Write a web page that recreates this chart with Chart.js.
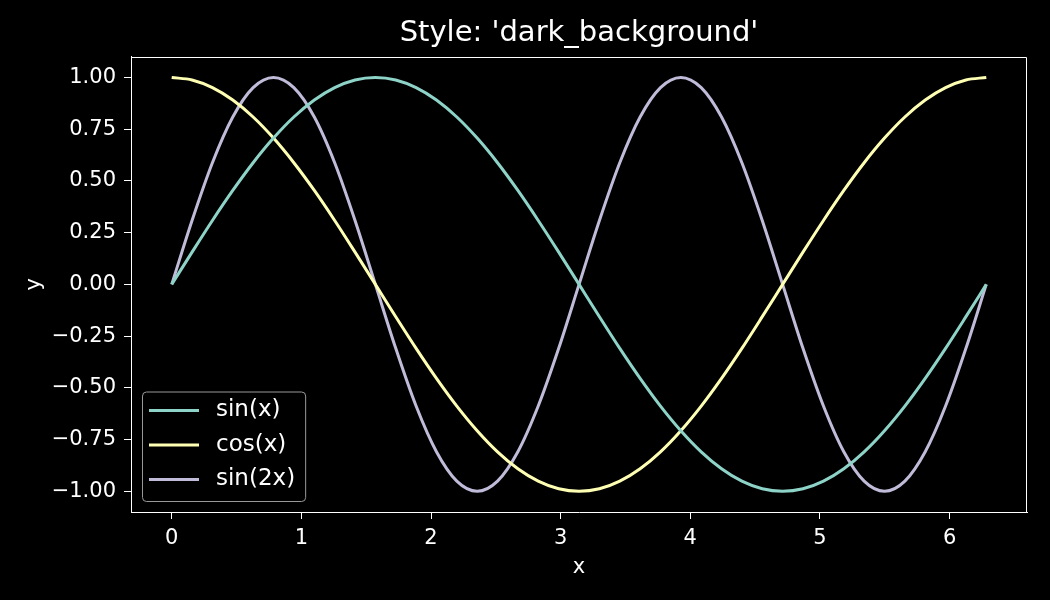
<!DOCTYPE html>
<html>
<head>
<meta charset="utf-8">
<script src="https://cdn.jsdelivr.net/npm/chart.js@4.4.0/dist/chart.umd.min.js"></script>
<style>
  html, body { margin: 0; background: #000; }
  #wrap { width: 1050px; height: 600px; }
</style>
</head>
<body>
<div id="wrap"><canvas id="chart" width="1050" height="600"></canvas></div>
<script>
// DATA (x from 0 to about 6.28)
const xValues = [0, 0.157, 0.314, 0.471, 0.628, 0.785, 0.942, 1.100, 1.257, 1.414,
  1.571, 1.728, 1.885, 2.042, 2.199, 2.356, 2.513, 2.670, 2.827, 2.985,
  3.142, 3.299, 3.456, 3.613, 3.770, 3.927, 4.084, 4.241, 4.398, 4.555,
  4.712, 4.869, 5.027, 5.184, 5.341, 5.498, 5.655, 5.812, 5.969, 6.126, 6.283];
const sinX = [0, 0.156, 0.309, 0.454, 0.588, 0.707, 0.809, 0.891, 0.951, 0.988,
  1, 0.988, 0.951, 0.891, 0.809, 0.707, 0.588, 0.454, 0.309, 0.156,
  0, -0.156, -0.309, -0.454, -0.588, -0.707, -0.809, -0.891, -0.951, -0.988,
  -1, -0.988, -0.951, -0.891, -0.809, -0.707, -0.588, -0.454, -0.309, -0.156, 0];
const cosX = [1, 0.988, 0.951, 0.891, 0.809, 0.707, 0.588, 0.454, 0.309, 0.156,
  0, -0.156, -0.309, -0.454, -0.588, -0.707, -0.809, -0.891, -0.951, -0.988,
  -1, -0.988, -0.951, -0.891, -0.809, -0.707, -0.588, -0.454, -0.309, -0.156,
  0, 0.156, 0.309, 0.454, 0.588, 0.707, 0.809, 0.891, 0.951, 0.988, 1];
const sin2X = [0, 0.309, 0.588, 0.809, 0.951, 1, 0.951, 0.809, 0.588, 0.309,
  0, -0.309, -0.588, -0.809, -0.951, -1, -0.951, -0.809, -0.588, -0.309,
  0, 0.309, 0.588, 0.809, 0.951, 1, 0.951, 0.809, 0.588, 0.309,
  0, -0.309, -0.588, -0.809, -0.951, -1, -0.951, -0.809, -0.588, -0.309, 0];
const seriesNames = ["sin(x)", "cos(x)", "sin(2x)"];
const xTicks = [0, 1, 2, 3, 4, 5, 6];
const yTicks = [-1, -0.75, -0.5, -0.25, 0, 0.25, 0.5, 0.75, 1];

const colors = ["#8dd3c7", "#feffb3", "#bfbbd9"];
const FONT = "'DejaVu Sans', sans-serif";

function toPoints(ys) {
  return ys.map((y, i) => ({ x: xValues[i], y: y }));
}

// top + right spines
const frame = {
  id: "frame",
  afterDraw(chart) {
    const a = chart.chartArea, ctx = chart.ctx;
    ctx.save();
    ctx.strokeStyle = "#fff";
    ctx.lineWidth = 1;
    ctx.beginPath();
    ctx.moveTo(Math.round(a.left) + 0.5, Math.round(a.top) + 0.5);
    ctx.lineTo(Math.round(a.right) - 0.5, Math.round(a.top) + 0.5);
    ctx.lineTo(Math.round(a.right) - 0.5, Math.round(a.bottom));
    ctx.stroke();
    ctx.restore();
  }
};

// legend box in lower left corner of the plot
const boxLegend = {
  id: "boxLegend",
  afterDraw(chart) {
    const ctx = chart.ctx, a = chart.chartArea;
    const ds = chart.data.datasets;
    ctx.save();
    ctx.font = "23px " + FONT;
    const textW = Math.max(...ds.map(d => ctx.measureText(d.label).width));
    const x0 = a.left + 11, rowH = 34.5;
    const h = ds.length * rowH + 6;
    const y0 = a.bottom - 11 - h;
    const w = 74 + textW + 10;
    ctx.fillStyle = "rgba(0,0,0,0.8)";
    ctx.strokeStyle = "#999";
    ctx.lineWidth = 1;
    ctx.beginPath();
    ctx.roundRect(x0 + 0.5, y0 + 0.5, w, h, 4);
    ctx.fill();
    ctx.stroke();
    ds.forEach((d, i) => {
      const cy = y0 + 19 + i * rowH;
      ctx.strokeStyle = d.borderColor;
      ctx.lineWidth = 3;
      ctx.beginPath();
      ctx.moveTo(x0 + 7, cy);
      ctx.lineTo(x0 + 57, cy);
      ctx.stroke();
      ctx.fillStyle = "#fff";
      ctx.textBaseline = "middle";
      ctx.fillText(d.label, x0 + 74, cy);
    });
    ctx.restore();
  }
};

const axisCommon = {
  type: "linear",
  grid: { drawOnChartArea: false, drawTicks: true, tickLength: 7, color: "#fff", tickWidth: 1 },
  border: { display: true, color: "#fff", width: 1 },
  ticks: { color: "#fff", font: { family: FONT, size: 21 } }
};

new Chart(document.getElementById("chart"), {
  type: "line",
  data: {
    datasets: [sinX, cosX, sin2X].map((ys, i) => ({
      label: seriesNames[i],
      data: toPoints(ys),
      borderColor: colors[i],
      borderWidth: 3,
      pointRadius: 0,
      fill: false,
      cubicInterpolationMode: "monotone"
    }))
  },
  options: {
    responsive: false,
    animation: false,
    devicePixelRatio: 1,
    layout: { padding: { left: 0, right: 23, top: 0, bottom: 0 } },
    plugins: {
      legend: { display: false },
      tooltip: { enabled: false },
      title: {
        display: true,
        fullSize: false,
        text: "Style: 'dark_background'",
        color: "#fff",
        font: { family: FONT, size: 29, weight: "normal" },
        padding: { top: 16, bottom: 6 }
      }
    },
    scales: {
      x: Object.assign({}, axisCommon, {
        min: -0.314, max: 6.597,
        afterBuildTicks: s => { s.ticks = xTicks.map(v => ({ value: v })); },
        afterFit: s => { s.height = 88; },
        ticks: Object.assign({}, axisCommon.ticks, { padding: 7, maxRotation: 0 }),
        title: { display: true, text: "x", color: "#fff", font: { family: FONT, size: 21 }, padding: { top: 4, bottom: 20 } }
      }),
      y: Object.assign({}, axisCommon, {
        min: -1.1, max: 1.1,
        afterBuildTicks: s => { s.ticks = yTicks.map(v => ({ value: v })); },
        afterFit: s => { s.width = 131; },
        ticks: Object.assign({}, axisCommon.ticks, {
          padding: 8,
          callback: v => v.toFixed(2).replace("-", "\u2212")
        }),
        title: { display: true, text: "y", color: "#fff", font: { family: FONT, size: 21 }, padding: { top: 22, bottom: 0 } }
      })
    }
  },
  plugins: [frame, boxLegend]
});
</script>
</body>
</html>
